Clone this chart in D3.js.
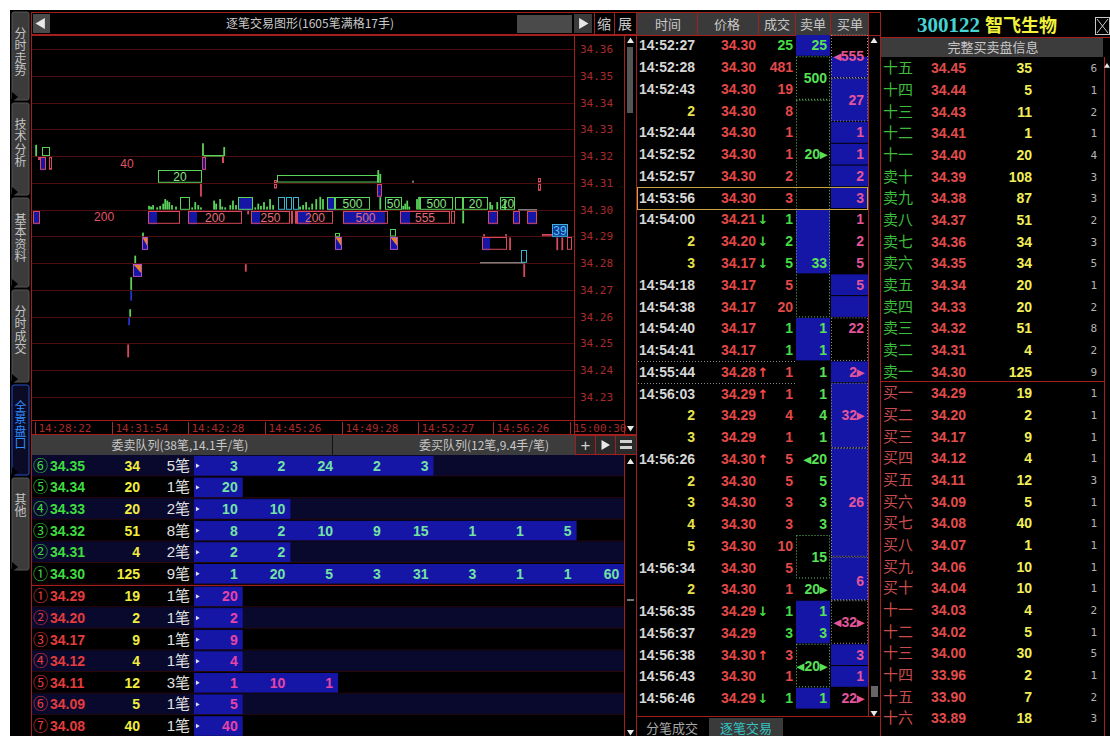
<!DOCTYPE html>
<html>
<head>
<meta charset="utf-8">
<script src="https://cdn.jsdelivr.net/npm/d3@7"></script>
<style>
  body { margin: 0; background: #fff; overflow: hidden; }
  svg { display: block; }
  text { font-family: "Liberation Sans", Arial, "Noto Sans CJK SC", sans-serif; }
</style>
</head>
<body>
<svg id="app" width="1110" height="736"></svg>
<script>
// ---------------- data ----------------
const tabNames = ["分时走势", "技术分析", "基本资料", "分时成交", "全景盘口", "其他"];

const priceLevels = [34.36, 34.35, 34.34, 34.33, 34.32, 34.31, 34.30, 34.29, 34.28, 34.27, 34.26, 34.25, 34.24, 34.23];
const timeLabels = ["14:28:22", "14:31:54", "14:42:28", "14:45:26", "14:49:28", "14:52:27", "14:56:26", "15:00:30"];
const timeTradeIdx = [6, 234, 460, 688, 917, 1142, 1365, 1593];

// small trades drawn as thin bars: [tradeIdx, price, side, lots, kind]
const tapeTicks = [
  [9, 34.32, "up", 15, "g"], [504, 34.32, "up", 17, "g"], [567, 34.32, "up", 12, "g"],
  [498, 34.31, "dn", 17, "p"], [1024, 34.31, "up", 17, "g"], [1030, 34.31, "up", 12, "g"], [1127, 34.31, "up", 3, "gr"],
  [1276, 34.30, "dn", 17, "g"], [638, 34.30, "dn", 5, "p"],
  [326, 34.29, "up", 5, "g"], [1338, 34.29, "up", 3, "p"], [1403, 34.29, "up", 3, "p"],
  [1415, 34.29, "dn", 17, "p"], [1555, 34.29, "dn", 17, "p"], [1570, 34.29, "dn", 17, "p"],
  [303, 34.28, "up", 10, "g"], [1457, 34.28, "dn", 17, "p"], [631, 34.28, "dn", 10, "p"],
  [291, 34.27, "up", 17, "g"], [291, 34.27, "dn", 13, "b"],
  [288, 34.26, "up", 10, "g"], [285, 34.26, "dn", 10, "b"],
  [282, 34.25, "dn", 17, "p"]
];
// green volume bars sitting on the 34.30 line: [tradeIdx, lots]
const ticksAt3430 = [
  [344, 5], [350, 4], [356, 6], [368, 3], [377, 5], [386, 8], [392, 14], [398, 12], [404, 10], [412, 6], [424, 4],
  [472, 3], [481, 10], [490, 6], [498, 3], [537, 12], [543, 8], [555, 14], [561, 4], [570, 3], [585, 6], [593, 12],
  [602, 6], [659, 3], [668, 8], [676, 5], [685, 10], [694, 4], [703, 14], [712, 6], [792, 4], [801, 6], [810, 10],
  [819, 3], [828, 8], [840, 14], [852, 17], [860, 14], [1030, 17], [1098, 5], [1104, 8], [1110, 12], [1116, 4],
  [1139, 14], [1145, 17], [1356, 10], [1362, 6], [1377, 10], [1400, 12]
];
// larger / merged orders: [fromIdx, toIdx, price, side, lots, kind, blueFillTo, label]
const orderBoxes = [
  [27, 50, 34.32, "up", 12, "g", null, ""], [507, 567, 34.32, "up", 2, "g", null, ""],
  [15, 21, 34.32, "dn", 4, "p", null, ""], [21, 39, 34.32, "dn", 17, "p", 39, ""], [47, 56, 34.32, "dn", 17, "p", null, ""],
  [502, 513, 34.32, "dn", 17, "p", 513, ""], [561, 567, 34.32, "dn", 8, "p", null, ""],
  [371, 501, 34.31, "up", 17, "g", null, "20"], [715, 724, 34.31, "up", 4, "p", null, ""], [715, 724, 34.31, "dn", 6, "p", null, ""],
  [724, 1024, 34.31, "up", 10, "g", null, ""], [1021, 1036, 34.31, "dn", 17, "p", 1036, ""],
  [1498, 1507, 34.31, "up", 6, "p", null, ""], [1498, 1507, 34.31, "dn", 9, "p", null, ""],
  [436, 466, 34.30, "up", 17, "g", null, ""], [608, 653, 34.30, "up", 17, "g", 653, ""],
  [727, 748, 34.30, "up", 17, "t", null, ""], [751, 768, 34.30, "up", 17, "t", null, ""], [771, 789, 34.30, "up", 17, "t", null, ""],
  [872, 896, 34.30, "up", 17, "g", 896, ""], [896, 1000, 34.30, "up", 17, "g", null, "500"],
  [1044, 1095, 34.30, "up", 17, "g", null, "50"], [1148, 1246, 34.30, "up", 17, "g", null, "500"],
  [1252, 1276, 34.30, "up", 17, "g", null, ""], [1276, 1350, 34.30, "up", 17, "g", null, "20"],
  [1386, 1430, 34.30, "up", 17, "g", null, "20"], [1439, 1495, 34.30, "up", 1, "gr", null, ""],
  [0, 21, 34.30, "dn", 17, "p", 21, ""], [341, 436, 34.30, "dn", 17, "p", 368, ""],
  [460, 620, 34.30, "dn", 17, "p", 487, "200"], [647, 763, 34.30, "dn", 17, "p", 674, "250"],
  [766, 772, 34.30, "dn", 17, "p", null, ""], [776, 783, 34.30, "dn", 17, "p", null, ""],
  [783, 890, 34.30, "dn", 17, "p", 822, "200"], [920, 1053, 34.30, "dn", 17, "p", 1044, "500"],
  [1089, 1237, 34.30, "dn", 17, "p", 1119, "555"], [1240, 1252, 34.30, "dn", 17, "p", null, ""],
  [1350, 1380, 34.30, "dn", 17, "p", 1380, ""], [1424, 1445, 34.30, "dn", 17, "p", 1445, ""], [1466, 1495, 34.30, "dn", 17, "p", 1495, ""],
  [896, 911, 34.29, "up", 5, "g", null, ""], [1059, 1077, 34.29, "up", 10, "g", null, ""],
  [1510, 1543, 34.29, "up", 3, "p", null, ""], [1540, 1587, 34.29, "up", 17, "t", 1587, "39"],
  [1332, 1406, 34.29, "dn", 17, "p", 1356, ""], [1584, 1599, 34.29, "dn", 17, "p", null, ""],
  [1326, 1460, 34.28, "up", 2, "gr", null, ""], [1448, 1466, 34.28, "up", 17, "t", null, ""]
];
// orders partly filled at a lower price: [fromIdx, toIdx, price]
const mixedBoxes = [[323, 341, 34.29], [896, 917, 34.29], [1059, 1083, 34.29], [297, 323, 34.28]];
// labels of long orders whose box is hidden: [tradeIdx, price, text]
const looseLabels = [[279, 34.32, "40"], [211, 34.30, "200"]];

// queue table
const sellQueue = [
  ["⑥", "34.35", 34, 5, [3, 2, 24, 2, 3]],
  ["⑤", "34.34", 20, 1, [20]],
  ["④", "34.33", 20, 2, [10, 10]],
  ["③", "34.32", 51, 8, [8, 2, 10, 9, 15, 1, 1, 5]],
  ["②", "34.31", 4, 2, [2, 2]],
  ["①", "34.30", 125, 9, [1, 20, 5, 3, 31, 3, 1, 1, 60]]
];
const buyQueue = [
  ["①", "34.29", 19, 1, [20]],
  ["②", "34.20", 2, 1, [2]],
  ["③", "34.17", 9, 1, [9]],
  ["④", "34.12", 4, 1, [4]],
  ["⑤", "34.11", 12, 3, [1, 10, 1]],
  ["⑥", "34.09", 5, 1, [5]],
  ["⑦", "34.08", 40, 1, [40]]
];

// tick by tick list
const tradeTimes = ["14:52:27", "14:52:28", "14:52:43", "2", "14:52:44", "14:52:52", "14:52:57", "14:53:56", "14:54:00", "2", "3",
  "14:54:18", "14:54:38", "14:54:40", "14:54:41", "14:55:44", "14:56:03", "2", "3", "14:56:26", "2", "3", "4", "5",
  "14:56:34", "2", "14:56:35", "14:56:37", "14:56:38", "14:56:43", "14:56:46"];
const tradePrices = ["34.30", "34.30", "34.30", "34.30", "34.30", "34.30", "34.30", "34.30", "34.21", "34.20", "34.17",
  "34.17", "34.17", "34.17", "34.17", "34.28", "34.29", "34.29", "34.29", "34.30", "34.30", "34.30", "34.30", "34.30",
  "34.30", "34.30", "34.29", "34.29", "34.30", "34.30", "34.29"];
const tradeArrows = ["", "", "", "", "", "", "", "", "↓", "↓", "↓", "", "", "", "", "↑", "↑", "", "", "↑", "", "", "", "",
  "", "", "↓", "", "↑", "", "↓"];
const tradeVols = [25, 481, 19, 8, 1, 1, 2, 3, 1, 2, 5, 5, 20, 1, 1, 1, 1, 4, 1, 5, 5, 3, 3, 10, 5, 1, 1, 3, 3, 1, 1];
const tradeSides = "SBBBBBBBSSSBBSSBBBBBBBBBBBSSBBS";
const sellFill = [[0, 0], [8, 10], [13, 14], [26, 27], [30, 30]];
const sellBox = [[1, 2], [3, 12], [23, 24], [28, 29]];
const sellLabels = [[0, "25"], [1.5, "500"], [5, "20▸"], [10, "33"], [13, "1"], [14, "1"], [15, "1"], [16, "1"], [17, "4"],
  [18, "1"], [19, "◂20"], [20, "5"], [21, "3"], [22, "3"], [23.5, "15"], [25, "20▸"], [26, "1"], [27, "3"], [28.5, "◂20▸"], [30, "1"]];
const buyFill = [[1, 1], [2, 3], [4, 4], [5, 5], [6, 6], [7, 7], [11, 11], [12, 12], [15, 15], [16, 18], [19, 23], [24, 25], [28, 28], [29, 29]];
const buyBox = [[0, 1], [2, 3], [13, 14], [16, 18], [19, 23], [24, 25], [26, 27]];
const buyLabels = [[0.5, "◂555"], [2.5, "27"], [4, "1"], [5, "1"], [6, "2"], [7, "3"], [8, "1"], [9, "2"], [10, "5"], [11, "5"],
  [13, "22"], [15, "2▸"], [17, "32▸"], [21, "26"], [24.6, "6"], [26.5, "◂32▸"], [28, "3"], [29, "1"], [30, "22▸"]];

// full order book
const askLabels = ["十五", "十四", "十三", "十二", "十一", "卖十", "卖九", "卖八", "卖七", "卖六", "卖五", "卖四", "卖三", "卖二", "卖一"];
const askPrices = ["34.45", "34.44", "34.43", "34.41", "34.40", "34.39", "34.38", "34.37", "34.36", "34.35", "34.34", "34.33", "34.32", "34.31", "34.30"];
const askVols = [35, 5, 11, 1, 20, 108, 87, 51, 34, 34, 20, 20, 51, 4, 125];
const askCounts = [6, 1, 2, 1, 4, 3, 3, 2, 3, 5, 1, 2, 8, 2, 9];
const bidLabels = ["买一", "买二", "买三", "买四", "买五", "买六", "买七", "买八", "买九", "买十", "十一", "十二", "十三", "十四", "十五", "十六"];
const bidPrices = ["34.29", "34.20", "34.17", "34.12", "34.11", "34.09", "34.08", "34.07", "34.06", "34.04", "34.03", "34.02", "34.00", "33.96", "33.90", "33.89"];
const bidVols = [19, 2, 9, 4, 12, 5, 40, 1, 10, 10, 4, 5, 30, 2, 7, 18];
const bidCounts = [1, 1, 1, 1, 3, 1, 1, 1, 1, 1, 2, 1, 5, 1, 2, 3];

// ---------------- drawing ----------------
const RED = "#a31f1f", GRID = "#4e0d0d", BLUE = "#1616a6", NAVY = "#09092e";
const CJK = "'Noto Sans CJK SC', sans-serif";
const MONO = "'DejaVu Sans Mono', monospace";
const app = d3.select("#app");

function rect(g, x, y, w, h, fill, stroke) {
  return g.append("rect").attr("x", x).attr("y", y).attr("width", w).attr("height", h)
    .attr("fill", fill || "none").attr("stroke", stroke || null);
}
function line(g, x1, y1, x2, y2, c, dash) {
  return g.append("line").attr("x1", x1).attr("y1", y1).attr("x2", x2).attr("y2", y2)
    .attr("stroke", c).attr("stroke-dasharray", dash || null);
}
function txt(g, x, y, s, o = {}) {
  return g.append("text").attr("x", x).attr("y", y).text(s)
    .attr("fill", o.fill || "#ccc").attr("font-size", o.size || 14)
    .attr("font-weight", o.bold ? "bold" : null)
    .attr("text-anchor", o.anchor || "start")
    .style("font-family", o.family || null);
}
function tri(g, cx, cy, dir, s, c) {
  const p = dir === "up" ? [[cx, cy - s], [cx + s, cy + s * 0.6], [cx - s, cy + s * 0.6]]
    : dir === "down" ? [[cx, cy + s], [cx + s, cy - s * 0.6], [cx - s, cy - s * 0.6]]
    : dir === "left" ? [[cx - s, cy], [cx + s * 0.7, cy - s], [cx + s * 0.7, cy + s]]
    : [[cx + s, cy], [cx - s * 0.7, cy - s], [cx - s * 0.7, cy + s]];
  g.append("path").attr("d", "M" + p.join("L") + "Z").attr("fill", c || "#e8e8e8");
}

rect(app, 10, 10, 1100, 726, "#000");

// left side tabs, vertical writing
const tabSpans = [[12, 100], [103, 195], [198, 287], [290, 382], [385, 475], [478, 570]];
const tabs = app.append("g");
tabNames.forEach((name, i) => {
  const [t0, t1] = tabSpans[i];
  const active = i === 4;
  rect(tabs, 12, t0, 17, t1 - t0, active ? "#0b0b26" : "#3b3b3b", active ? "#2452c8" : "#555")
    .attr("rx", 2);
  tabs.append("path").attr("d", `M12,${t1 - 8}L18,${t1 - 3}L12,${t1 + 2}Z`).attr("fill", "#000");
  tabs.append("text").attr("x", 20.5).attr("y", t0 + 15)
    .attr("font-size", 12).attr("fill", active ? "#2f8dff" : "#c4c4c4")
    .style("font-family", CJK).style("writing-mode", "vertical-rl").style("letter-spacing", "0.5px")
    .text(name);
});

// ---- tick chart ----
const chart = app.append("g");
rect(chart, 31.5, 12.5, 605, 22, "#000", RED);
rect(chart, 33, 14, 17, 19, "#4a4a4a");
tri(chart, 41, 23.5, "left", 5.5);
txt(chart, 310, 28, "逐笔交易图形(1605笔满格17手)", { size: 12, anchor: "middle", fill: "#c8c8c8", family: CJK });
rect(chart, 517, 15, 55, 18, "#4a4a4a");
rect(chart, 574, 14, 18, 19, "#3a3a3a");
tri(chart, 583, 23.5, "right", 5.5);
line(chart, 594.5, 13, 594.5, 35, RED);
line(chart, 614.5, 13, 614.5, 35, RED);
txt(chart, 604, 29, "缩", { size: 14, anchor: "middle", fill: "#c8c8c8", family: CJK });
txt(chart, 625, 29, "展", { size: 14, anchor: "middle", fill: "#c8c8c8", family: CJK });

const x = d3.scaleLinear().domain([0, 1605]).range([33, 574]);
const y = d3.scaleLinear().domain([34.23, 34.36]).range([397, 49]);
const half = (y(34.30) - y(34.31)) / 2;
const lotH = l => Math.max(1, Math.min(l, 17) / 17 * (half - 0.6));
const kindColor = { g: "#5ad35a", p: "#d8485e", t: "#3bb4d0", gr: "#7c7c7c", b: "#2535cc" };
const labelColor = { g: "#86e486", p: "#e36c7c", t: "#46c8e8", gr: "#999" };

app.append("clipPath").attr("id", "plotClip").append("rect")
  .attr("x", 32).attr("y", 36).attr("width", 542).attr("height", 384);
const plot = chart.append("g").attr("clip-path", "url(#plotClip)");

plot.selectAll(".grid").data(priceLevels).join("line")
  .attr("x1", 32).attr("x2", 574)
  .attr("y1", d => Math.round(y(d)) + 0.5).attr("y2", d => Math.round(y(d)) + 0.5)
  .attr("stroke", GRID);

// y labels
chart.selectAll(".ylab").data(priceLevels).join("text")
  .attr("x", 580).attr("y", d => y(d) + 4)
  .attr("font-size", 11).style("font-family", MONO).attr("fill", "#a82a2a")
  .text(d => d.toFixed(2));

// frame lines
line(chart, 31.5, 35, 31.5, 736, RED);
line(chart, 574.5, 35, 574.5, 434, RED);
line(chart, 624.5, 35, 624.5, 434, RED);
line(chart, 636.5, 12, 636.5, 736, RED);
line(chart, 31, 35.5, 637, 35.5, RED);
line(chart, 31, 420.5, 625, 420.5, RED);
line(chart, 31, 434.5, 637, 434.5, RED);

// time axis
const tAxis = chart.append("g");
timeLabels.forEach((t, i) => {
  const tx = Math.round(x(timeTradeIdx[i])) + 0.5;
  line(tAxis, tx, 422, tx, 434, "#a82a2a");
  txt(tAxis, tx + 3, 432, t, { size: 11, fill: "#a82a2a", family: MONO });
});

// bars
const allTicks = tapeTicks.concat(ticksAt3430.map(d => [d[0], 34.30, "up", d[1], "g"]));
plot.selectAll(".tick").data(allTicks).join("rect")
  .attr("x", d => x(d[0]) - 0.8).attr("width", 1.8)
  .attr("y", d => d[2] === "up" ? y(d[1]) - lotH(d[3]) : y(d[1]) + 1)
  .attr("height", d => lotH(d[3]))
  .attr("fill", d => kindColor[d[4]]);

// order boxes
plot.selectAll(".ob").data(orderBoxes).join("g").each(function (d) {
  const [i0, i1, p, side, lots, kind, fillTo, label] = d;
  const g = d3.select(this);
  const h = lotH(lots);
  const x0 = Math.round(x(i0)) + 0.5, x1 = Math.round(x(i1)) - 0.5;
  const top = side === "up" ? Math.round(y(p) - h) + 0.5 : Math.round(y(p)) + 1.5;
  if (fillTo != null) rect(g, x0, top, Math.max(1, Math.round(x(fillTo)) - x0), h, kind === "t" ? "#15339a" : BLUE);
  rect(g, x0, top, Math.max(1, x1 - x0), Math.max(0.5, h - 1), null, kindColor[kind]);
  if (label) {
    txt(g, (x0 + x1) / 2, top + h / 2 + 4.5, label, { size: 12, anchor: "middle", fill: labelColor[kind] });
  }
});

plot.selectAll(".mix").data(mixedBoxes).join("g").each(function (d) {
  const g = d3.select(this);
  const x0 = Math.round(x(d[0])) + 0.5, x1 = Math.round(x(d[1])) - 0.5;
  const top = Math.round(y(d[2])) + 1.5, h = half - 1.5;
  rect(g, x0, top, x1 - x0, h, BLUE);
  g.append("path").attr("d", `M${x0},${top}L${x1},${top}L${x1},${top + h * 0.75}Z`).attr("fill", "#e8822a");
  rect(g, x0, top, x1 - x0, h, null, "#b050c8");
});

plot.selectAll(".loose").data(looseLabels).join("text")
  .attr("x", d => x(d[0])).attr("y", d => y(d[1]) + half / 2 + 5)
  .attr("text-anchor", "middle").attr("font-size", 12).attr("fill", "#e05466")
  .text(d => d[2]);

// chart scrollbar
const sc = app.append("g");
tri(sc, 630.5, 41, "up", 3.5);
rect(sc, 627, 47, 6, 66, "#555");
tri(sc, 630.5, 428, "down", 3.5);

// ---- queue table ----
const q = app.append("g");
rect(q, 32, 435, 543, 20, "#3c3c3c");
line(q, 332.5, 435, 332.5, 455, "#111");
txt(q, 180, 450, "委卖队列(38笔,14.1手/笔)", { size: 12, anchor: "middle", fill: "#c8c8c8", family: CJK });
txt(q, 484, 450, "委买队列(12笔,9.4手/笔)", { size: 12, anchor: "middle", fill: "#c8c8c8", family: CJK });
rect(q, 575.5, 435.5, 20, 19, "#2a2a2a", RED);
rect(q, 595.5, 435.5, 20, 19, "#2a2a2a", RED);
rect(q, 615.5, 435.5, 21, 19, "#2a2a2a", RED);
txt(q, 585.5, 451, "+", { size: 17, anchor: "middle", fill: "#d0d0d0" });
tri(q, 605, 445, "right", 5);
rect(q, 620, 440, 12, 3, "#d0d0d0");
rect(q, 620, 446, 12, 3, "#d0d0d0");

const qSell = d3.scaleLinear().domain([0, 6]).range([455, 584.6]);
const qBuy = d3.scaleLinear().domain([0, 7]).range([585.6, 736.8]);
const qCell = d3.scaleLinear().domain([0, 9]).range([194, 623.3]);

function queueRows(rows, rowY, isSell) {
  const rh = rowY(1) - rowY(0);
  rows.forEach((r, i) => {
    const top = rowY(i);
    const g = q.append("g");
    rect(g, 32, top, 592, rh, i % 2 === (isSell ? 0 : 1) ? NAVY : "#000");
    line(g, 32, top + rh - 0.5, 624, top + rh - 0.5, "#2a0808");
    const cy = top + rh / 2 + 5;
    const main = isSell ? "#3fdc3f" : "#e43c3c";
    txt(g, 33, cy, r[0], { size: 15, fill: main, family: CJK });
    txt(g, 50, cy, r[1], { size: 14, bold: true, fill: main });
    txt(g, 140, cy, r[2], { size: 14, bold: true, fill: "#f0ec40", anchor: "end" });
    txt(g, 190, cy, r[3] + "笔", { size: 15, fill: "#e0e0e0", anchor: "end", family: "'Liberation Sans','Noto Sans CJK SC'" });
    rect(g, qCell(0), top + 1, qCell(r[4].length) - qCell(0) + 1, rh - 2, BLUE);
    tri(g, 197.5, top + rh / 2, "right", 2.2, "#e0e0e0");
    r[4].forEach((v, k) => {
      txt(g, qCell(k + 1) - 4, cy, v, { size: 14, bold: true, anchor: "end", fill: isSell ? "#74e2a4" : "#e645a6" });
    });
  });
}
queueRows(sellQueue, qSell, true);
queueRows(buyQueue, qBuy, false);
line(q, 32, 585.5, 624, 585.5, RED);
line(q, 624.5, 455, 624.5, 736, RED);
tri(q, 630.5, 462, "up", 3.5);
rect(q, 627, 599, 7, 2, "#777");
tri(q, 630.5, 732, "down", 3.5);

// ---- tick by tick list ----
const m = app.append("g");
rect(m, 637, 12, 231, 23, "#3a3a3a");
line(m, 636, 12.5, 880, 12.5, RED);
line(m, 636, 35.5, 880, 35.5, RED);
[697.5, 758.5, 795.5, 830.5, 868.5].forEach(v => line(m, v, 12, v, 35, RED));
[["时间", 668], ["价格", 727], ["成交", 777], ["卖单", 813], ["买单", 850]].forEach(h =>
  txt(m, h[1], 29, h[0], { size: 13, anchor: "middle", fill: "#c8c8c8", family: CJK }));

const mRow = d3.scaleLinear().domain([0, 31]).range([34.5, 34.5 + 31 * 21.76]);
const rH = mRow(1) - mRow(0);

m.selectAll(".sf").data(sellFill).join("rect")
  .attr("x", 796).attr("width", 34).attr("y", d => mRow(d[0]) + 0.5).attr("height", d => mRow(d[1] + 1) - mRow(d[0]) - 1)
  .attr("fill", BLUE);
m.selectAll(".bf").data(buyFill).join("rect")
  .attr("x", 831).attr("width", 37).attr("y", d => mRow(d[0]) + 0.5).attr("height", d => mRow(d[1] + 1) - mRow(d[0]) - 1)
  .attr("fill", BLUE);
m.selectAll(".sb").data(sellBox).join("rect")
  .attr("x", 796.5).attr("width", 33).attr("y", d => mRow(d[0]) + 0.5).attr("height", d => mRow(d[1] + 1) - mRow(d[0]) - 1)
  .attr("fill", "none").attr("stroke", "#6ac46a").attr("stroke-dasharray", "1,2");
m.selectAll(".bb").data(buyBox).join("rect")
  .attr("x", 831.5).attr("width", 36).attr("y", d => mRow(d[0]) + 0.5).attr("height", d => mRow(d[1] + 1) - mRow(d[0]) - 1)
  .attr("fill", "none").attr("stroke", "#9a9a9a").attr("stroke-dasharray", "1,2");

tradeTimes.forEach((t, i) => {
  const cy = mRow(i) + rH / 2 + 5;
  const sub = t.length < 3;
  txt(m, 695, cy, t, { size: 14, bold: true, anchor: "end", fill: sub ? "#e8e24a" : "#d6d6d6" });
  txt(m, 756, cy, tradePrices[i], { size: 14, bold: true, anchor: "end", fill: "#e44848" });
  if (tradeArrows[i]) {
    txt(m, 763, cy, tradeArrows[i], { size: 13, bold: true, anchor: "middle", fill: tradeArrows[i] === "↑" ? "#ff4a4a" : "#44dd44", family: "'DejaVu Sans'" });
  }
  txt(m, 793, cy, tradeVols[i], { size: 14, bold: true, anchor: "end", fill: tradeSides[i] === "S" ? "#44dd44" : "#e44848" });
});
m.selectAll(".sl").data(sellLabels).join("text")
  .attr("x", 827).attr("y", d => mRow(d[0]) + rH / 2 + 5).attr("text-anchor", "end")
  .attr("font-size", 14).attr("font-weight", "bold").attr("fill", "#58e058").text(d => d[1]);
m.selectAll(".bl").data(buyLabels).join("text")
  .attr("x", 864).attr("y", d => mRow(d[0]) + rH / 2 + 5).attr("text-anchor", "end")
  .attr("font-size", 14).attr("font-weight", "bold").attr("fill", "#e2559a").text(d => d[1]);

[15, 16].forEach(r => line(m, 638, Math.round(mRow(r)) + 0.5, 796, Math.round(mRow(r)) + 0.5, "#8a8a8a", "1,2"));
rect(m, 637.5, Math.round(mRow(7)) + 0.5, 230, Math.round(rH), null, "#c9a443");

line(m, 868.5, 35, 868.5, 716, RED);
line(m, 880.5, 12, 880.5, 736, RED);
tri(m, 874, 41, "up", 3.5);
rect(m, 871, 686, 7, 11, "#666");
tri(m, 874, 713, "down", 3.5);
line(m, 636, 716.5, 880, 716.5, RED);
txt(m, 672, 733, "分笔成交", { size: 13, anchor: "middle", fill: "#a8a8a8", family: CJK });
rect(m, 709, 718, 74, 18, "#3a3a3a");
txt(m, 746, 733, "逐笔交易", { size: 13, anchor: "middle", fill: "#34c6c6", family: CJK });

// ---- full order book ----
const b = app.append("g");
txt(b, 917, 32, "300122", { size: 21, bold: true, fill: "#45d4d4", family: "'Liberation Serif', serif" });
txt(b, 985, 32, "智飞生物", { size: 18, bold: true, fill: "#f2f23c", family: CJK });
rect(b, 1095.5, 17.5, 14, 17, null, "#c8c8c8");
line(b, 1097, 19, 1108, 33, "#c8c8c8");
line(b, 1108, 19, 1097, 33, "#c8c8c8");
line(b, 880, 37.5, 1110, 37.5, RED);
rect(b, 881, 38, 222, 19, "#3c3c3c");
txt(b, 993, 52, "完整买卖盘信息", { size: 13, anchor: "middle", fill: "#c8c8c8", family: CJK });
line(b, 1104.5, 57, 1104.5, 736, RED);
tri(b, 1107, 66, "up", 3);

const askRow = d3.scaleLinear().domain([0, 15]).range([57, 57 + 15 * 21.67]);
const bidRow = d3.scaleLinear().domain([0, 16]).range([382, 382 + 16 * 21.67]);
function bookRows(labels, prices, vols, counts, rowY, isAsk) {
  labels.forEach((lab, i) => {
    const cy = rowY(i) + 21.67 / 2 + 5.5;
    txt(b, 883, cy, lab, { size: 15, fill: isAsk ? "#3cbc3c" : "#c94c4c", family: CJK });
    txt(b, 931, cy, prices[i], { size: 14, bold: true, fill: "#e04c4c" });
    txt(b, 1032, cy, vols[i], { size: 14, bold: true, anchor: "end", fill: "#f2ee58" });
    txt(b, 1097, cy - 1, counts[i], { size: 11, anchor: "end", fill: "#b4b4b4", family: MONO });
  });
}
bookRows(askLabels, askPrices, askVols, askCounts, askRow, true);
bookRows(bidLabels, bidPrices, bidVols, bidCounts, bidRow, false);
line(b, 880, 381.5, 1104, 381.5, RED);
</script>
</body>
</html>
